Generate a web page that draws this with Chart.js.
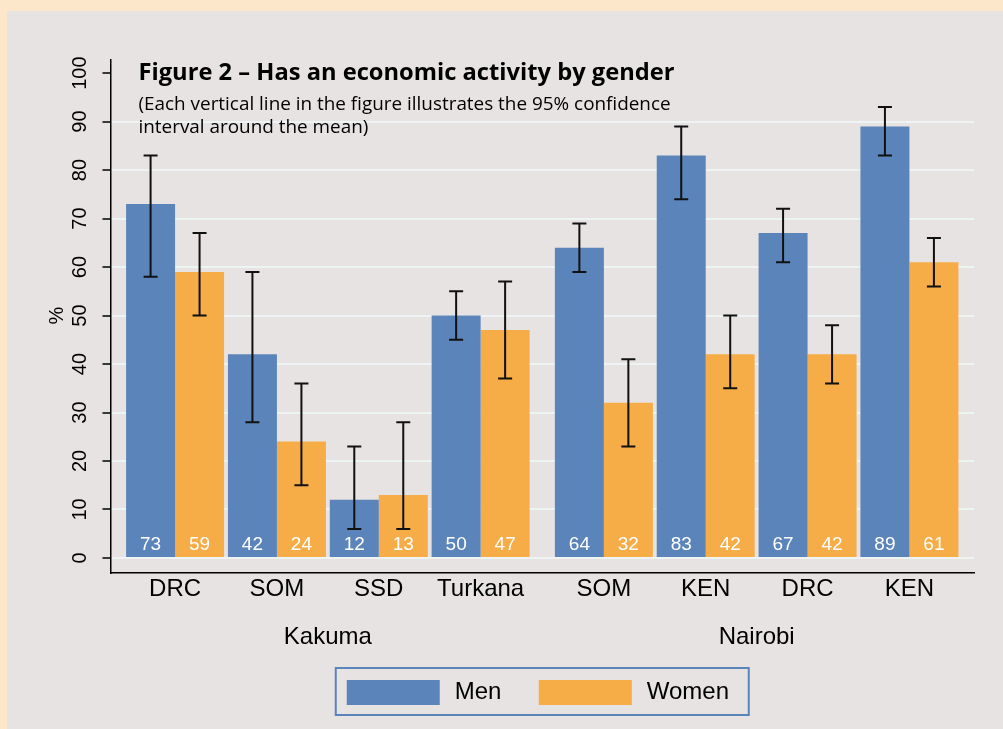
<!DOCTYPE html>
<html>
<head>
<meta charset="utf-8">
<script src="https://cdn.jsdelivr.net/npm/chart.js@4/dist/chart.umd.min.js"></script>
<style>
  html, body { margin: 0; padding: 0; background: #FDE7CA; }
  #wrap { position: absolute; left: 7px; top: 11px; width: 996px; height: 718px; background: #E7E3E2; }
</style>
</head>
<body>
<div id="wrap"><canvas id="chart" width="996" height="718"></canvas></div>
<script>
// categories
const groupLabels = ['DRC', 'SOM', 'SSD', 'Turkana', 'SOM', 'KEN', 'DRC', 'KEN'];
const locations = ['Kakuma', 'Kakuma', 'Kakuma', 'Kakuma', 'Nairobi', 'Nairobi', 'Nairobi', 'Nairobi'];

// series values (%)
const menValues = [73, 42, 12, 50, 64, 83, 67, 89];
const womenValues = [59, 24, 13, 47, 32, 42, 42, 61];

// 95% confidence intervals
const menLow = [58, 28, 6, 45, 59, 74, 61, 83];
const menHigh = [83, 59, 23, 55, 69, 89, 72, 93];
const womenLow = [50, 15, 6, 37, 23, 35, 36, 56];
const womenHigh = [67, 36, 28, 57, 41, 50, 48, 66];

const yTicks = [0, 10, 20, 30, 40, 50, 60, 70, 80, 90, 100];

const blue = '#5B84BA';
const orange = '#F6AC47';
const sansFont = '"Liberation Sans", Arial, sans-serif';

// x position of each group: a small extra gap between the two locations
const locationNames = [...new Set(locations)];
const xPos = groupLabels.map((_, i) => i + locationNames.indexOf(locations[i]) * 0.21);

const toPoints = vals => vals.map((v, i) => ({ x: xPos[i], y: v }));

// Function to draw error bars and value labels on the bars
const barExtras = {
    id: 'barExtras',
    afterDatasetsDraw(chart) {
        const ctx = chart.ctx;
        const y = chart.scales.y;
        const ci = [[menLow, menHigh], [womenLow, womenHigh]];
        ctx.save();
        chart.data.datasets.forEach((ds, d) => {
            const meta = chart.getDatasetMeta(d);
            meta.data.forEach((bar, i) => {
                // value label
                ctx.fillStyle = '#FFFFFF';
                ctx.font = '19px ' + sansFont;
                ctx.textAlign = 'center';
                ctx.textBaseline = 'middle';
                ctx.fillText(String(ds.data[i].y), bar.x, y.getPixelForValue(0) - 13);

                // confidence interval
                const top = y.getPixelForValue(ci[d][1][i]);
                const bot = y.getPixelForValue(ci[d][0][i]);
                ctx.strokeStyle = '#111111';
                ctx.lineWidth = 2;
                ctx.beginPath();
                ctx.moveTo(bar.x, top);
                ctx.lineTo(bar.x, bot);
                ctx.moveTo(bar.x - 7, top);
                ctx.lineTo(bar.x + 7, top);
                ctx.moveTo(bar.x - 7, bot);
                ctx.lineTo(bar.x + 7, bot);
                ctx.stroke();
            });
        });
        ctx.restore();
    }
};

// Function to draw the texts Chart.js does not place as we want
const decorations = {
    id: 'decorations',
    afterDraw(chart) {
        const ctx = chart.ctx;
        const area = chart.chartArea;
        const x = chart.scales.x;
        const y = chart.scales.y;
        ctx.save();
        ctx.fillStyle = '#000000';

        // rotated y tick labels
        ctx.font = '20px ' + sansFont;
        ctx.textAlign = 'center';
        ctx.textBaseline = 'middle';
        yTicks.forEach(t => {
            ctx.save();
            ctx.translate(area.left - 30, y.getPixelForValue(t));
            ctx.rotate(-Math.PI / 2);
            ctx.fillText(String(t), 0, 0);
            ctx.restore();
        });

        // y axis title
        ctx.save();
        ctx.translate(area.left - 53, y.getPixelForValue(50));
        ctx.rotate(-Math.PI / 2);
        ctx.fillText('%', 0, 0);
        ctx.restore();

        // location labels under the groups
        ctx.font = '24px ' + sansFont;
        locationNames.forEach(loc => {
            const idx = locations.map((l, i) => l === loc ? i : -1).filter(i => i >= 0);
            const cx = (x.getPixelForValue(xPos[idx[0]]) + x.getPixelForValue(xPos[idx[idx.length - 1]])) / 2;
            ctx.fillText(loc, cx, area.bottom + 64);
        });

        // title and note
        ctx.textAlign = 'left';
        ctx.textBaseline = 'alphabetic';
        ctx.font = 'bold 23.7px "Open Sans", sans-serif';
        ctx.fillText('Figure 2 \u2013 Has an economic activity by gender', area.left + 28, 69);
        ctx.font = '18.9px "Open Sans", sans-serif';
        ctx.fillText('(Each vertical line in the figure illustrates the 95% confidence', area.left + 28, 99);
        ctx.fillText('interval around the mean)', area.left + 28, 122);

        // legend
        const lw = 413, lh = 47;
        const lx = (area.left + area.right) / 2 - lw / 2;
        const ly = area.bottom + 95;
        ctx.strokeStyle = '#5B84BA';
        ctx.lineWidth = 2;
        ctx.strokeRect(lx, ly, lw, lh);
        ctx.font = '24px ' + sansFont;
        ctx.textBaseline = 'middle';
        chart.data.datasets.forEach((ds, d) => {
            const sx = lx + 11 + d * 192;
            ctx.fillStyle = ds.backgroundColor;
            ctx.fillRect(sx, ly + 12, 93, 25);
            ctx.fillStyle = '#000000';
            ctx.fillText(ds.label, sx + 108, ly + lh / 2 + 1);
        });
        ctx.restore();
    }
};

const chart = new Chart(document.getElementById('chart').getContext('2d'), {
    type: 'bar',
    data: {
        datasets: [
            { label: 'Men', data: toPoints(menValues), backgroundColor: blue },
            { label: 'Women', data: toPoints(womenValues), backgroundColor: orange }
        ]
    },
    options: {
        responsive: false,
        animation: false,
        categoryPercentage: 0.962,
        barPercentage: 1,
        layout: { padding: { top: 49, right: 29, left: 0, bottom: 0 } },
        plugins: {
            legend: { display: false },
            tooltip: { enabled: false }
        },
        scales: {
            x: {
                type: 'linear',
                offset: false,
                min: -0.634,
                max: xPos[xPos.length - 1] + 0.634,
                afterBuildTicks: scale => { scale.ticks = xPos.map(v => ({ value: v })); },
                afterFit: scale => { scale.height = 156; },
                ticks: {
                    autoSkip: false,
                    maxRotation: 0,
                    color: '#000000',
                    font: { family: sansFont, size: 24 },
                    padding: 2,
                    callback: (value, index) => groupLabels[index]
                },
                grid: { display: false, drawTicks: false, offset: false },
                border: { display: true, color: '#000000', width: 1.5 }
            },
            y: {
                min: -3.1,
                max: 102.7,
                afterBuildTicks: scale => { scale.ticks = yTicks.map(v => ({ value: v })); },
                afterFit: scale => { scale.width = 103.5; },
                ticks: { display: false },
                grid: {
                    color: c => (c.tick && c.tick.value === 100) ? 'rgba(0,0,0,0)' : '#EEF3F4',
                    lineWidth: 2,
                    drawTicks: true,
                    tickLength: 8,
                    tickColor: '#000000',
                    tickWidth: 1.5
                },
                border: { display: true, color: '#000000', width: 1.5 }
            }
        }
    },
    plugins: [barExtras, decorations]
});
</script>
</body>
</html>
